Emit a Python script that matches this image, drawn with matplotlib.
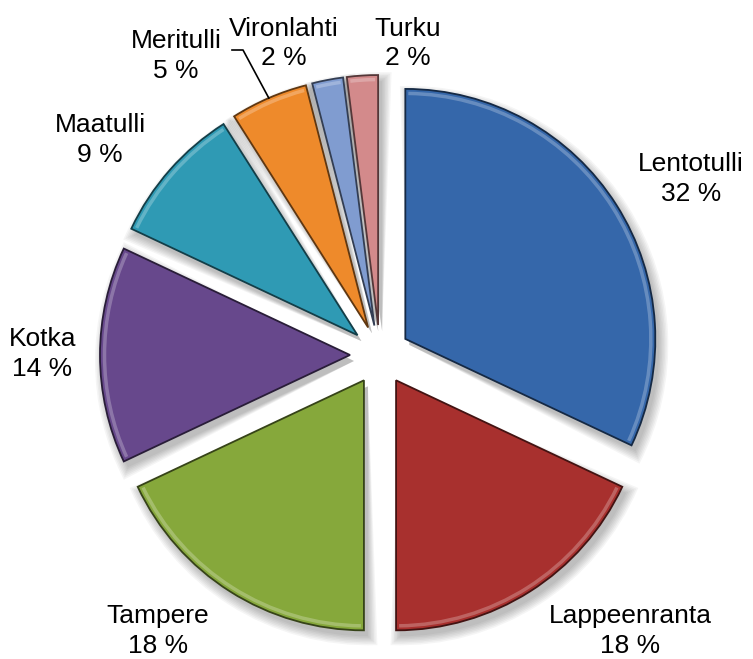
import matplotlib
matplotlib.use("Agg")
import matplotlib.pyplot as plt
import matplotlib.colors as mcolors
from matplotlib.patches import Wedge, Arc
import numpy as np

sites = ["Lentotulli", "Lappeenranta", "Tampere", "Kotka",
         "Maatulli", "Meritulli", "Vironlahti", "Turku"]
shares = [32, 18, 18, 14, 9, 5, 2, 2]

colors = ["#3567AA", "#A8302E", "#86A83B", "#67488C",
          "#2F9AB4", "#EE8A2B", "#809CD0", "#D38A8B"]

# label centres in data units (pie radius = 1)
label_xy = [(1.244, 0.704), (1.0, -1.104), (-0.888, -1.104), (-1.35, 0.004),
            (-1.12, 0.86), (-0.816, 1.196), (-0.386, 1.246), (0.112, 1.246)]

fig = plt.figure(figsize=(7.53, 6.59), dpi=100)
ax = fig.add_axes([0, 0, 1, 1])

wedges, _ = ax.pie(shares, colors=colors, startangle=90, counterclock=False,
                   explode=[0.12] * len(shares), radius=1,
                   wedgeprops=dict(linewidth=1.3, zorder=3))

ax.set_xlim(-1.52, 1.492)
ax.set_ylim(-1.216, 1.42)
ax.set_aspect("equal")
ax.axis("off")

for w, c in zip(wedges, colors):
    base = np.array(mcolors.to_rgb(c))
    w.set_edgecolor(base * 0.4)
    cx, cy = w.center
    # soft drop shadow
    for k in range(7):
        ax.add_patch(Wedge((cx + 0.016, cy - 0.024), w.r + 0.006 * k,
                           w.theta1 - 0.35 * k, w.theta2 + 0.35 * k,
                           facecolor="black", edgecolor="none",
                           alpha=0.04, zorder=1))
    # subtle bevel highlight along the rim
    light = base + (1 - base) * 0.55
    ax.add_patch(Arc((cx, cy), 2 * w.r * 0.982, 2 * w.r * 0.982,
                     theta1=w.theta1 + 0.7, theta2=w.theta2 - 0.7,
                     color=light, lw=2.5, alpha=0.45, zorder=4))

for name, val, (lx, ly) in zip(sites, shares, label_xy):
    ax.text(lx, ly, f"{name}\n{val} %", ha="center", va="center",
            multialignment="center", fontsize=19, linespacing=1.3,
            family="Liberation Sans", color="black", zorder=6)

# leader line for Meritulli
i = sites.index("Meritulli")
w = wedges[i]
mid = np.deg2rad((w.theta1 + w.theta2) / 2)
tip = (w.center[0] + w.r * np.cos(mid), w.center[1] + w.r * np.sin(mid))
lx, ly = label_xy[i]
start = (lx + 0.224, ly + 0.024)
elbow = (lx + 0.268, ly + 0.024)
ax.plot([start[0], elbow[0], tip[0]], [start[1], elbow[1], tip[1]],
        color="black", lw=1.2, zorder=5)

fig.savefig("out.png", dpi=100, facecolor="white")
